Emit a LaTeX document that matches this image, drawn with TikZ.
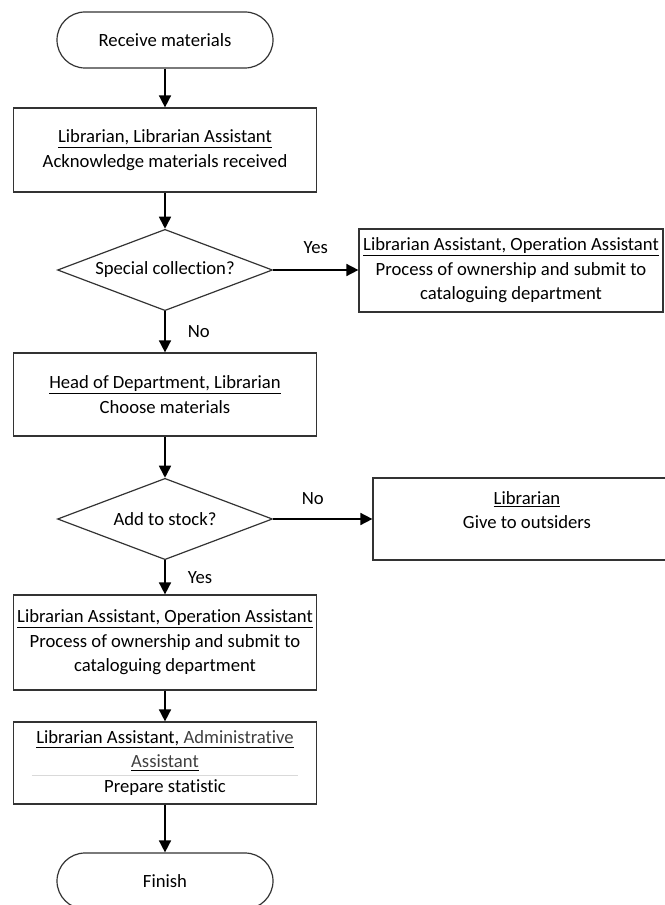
\documentclass[tikz,border=0pt]{standalone}
\usepackage{fontspec}
\setmainfont{Carlito}[Ligatures=NoCommon]
\usepackage{tikz}
\usetikzlibrary{shapes.geometric, arrows.meta, positioning, calc}

\begin{document}
\begin{tikzpicture}[x=0.75pt,y=-0.75pt]
    \tikzstyle{every node} = [font=\fontsize{14}{18.4}\selectfont]
    \tikzstyle{block} = [draw=black!80, line width=0.9pt, rectangle, align=center, inner sep=0pt, minimum width=227.25pt]
    \tikzstyle{term} = [draw=black!80, line width=0.9pt, rectangle, rounded corners=21pt, minimum width=162pt, minimum height=42pt]
    \tikzstyle{decision} = [draw=black!80, line width=0.9pt, diamond, aspect=2.6, inner sep=0pt, minimum width=161.25pt, minimum height=61pt]
    \tikzstyle{line} = [-{Triangle[length=9pt,width=9pt]}, line width=1.2pt]
    \tikzstyle{lbl} = [inner sep=0pt]
    \useasboundingbox (0,0) rectangle (664,905);

    % place nodes
    \node[term] (start) at (165,40) {Receive materials};
    \node[block, minimum height=63pt] (ack) at (165,150)
        {\underline{Librarian, Librarian Assistant}\\Acknowledge materials received};
    \node[decision] (special) at (165,270) {Special collection?};
    \node[block, minimum width=228pt, minimum height=62.25pt] (own1) at (511,270.5)
        {\underline{Librarian Assistant, Operation Assistant}\\Process of ownership and submit to\\cataloguing department};
    \node[block, minimum height=62.25pt] (choose) at (165,394.5)
        {\underline{Head of Department, Librarian}\\Choose materials};
    \node[decision] (stock) at (165,519) {Add to stock?};
    \node[block, minimum width=231pt, minimum height=61.5pt] (give) at (527,519) {};
    \node[align=center, inner sep=0pt] (givetxt) at (527,510) {\underline{Librarian}\\Give to outsiders};
    \node[block, minimum height=71.25pt] (own2) at (165,642.5)
        {\underline{Librarian Assistant, Operation Assistant}\\Process of ownership and submit to\\cataloguing department};
    \node[block, minimum height=61.5pt] (stat) at (165,763)
        {\underline{Librarian Assistant, \textcolor{black!75}{Administrative}}\\\underline{\textcolor{black!75}{Assistant}}\\Prepare statistic};
    \node[term] (finish) at (165,881) {Finish};

    % Connections
    \draw[line] (start) -- (ack);
    \draw[line] (ack) -- (special);
    \draw[line] (special) -- node[lbl, above=12pt]{Yes} (special -| own1.west);
    \draw[line] (special) -- node[lbl, right=16.5pt]{No} (choose);
    \draw[line] (choose) -- (stock);
    \draw[line] (stock) -- node[lbl, pos=0.4, above=10.5pt]{No} (stock -| give.west);
    \draw[line] (stock) -- node[lbl, right=16.5pt]{Yes} (own2);
    \draw[line] (own2) -- (stat);
    \draw[line] (stat) -- (finish);
    %\draw thin rule in last box
    \draw[black!15, line width=0.6pt] ($(stat.west)+(19,12)$) -- ($(stat.east)+(-19,12)$);

\end{tikzpicture}
\end{document}
